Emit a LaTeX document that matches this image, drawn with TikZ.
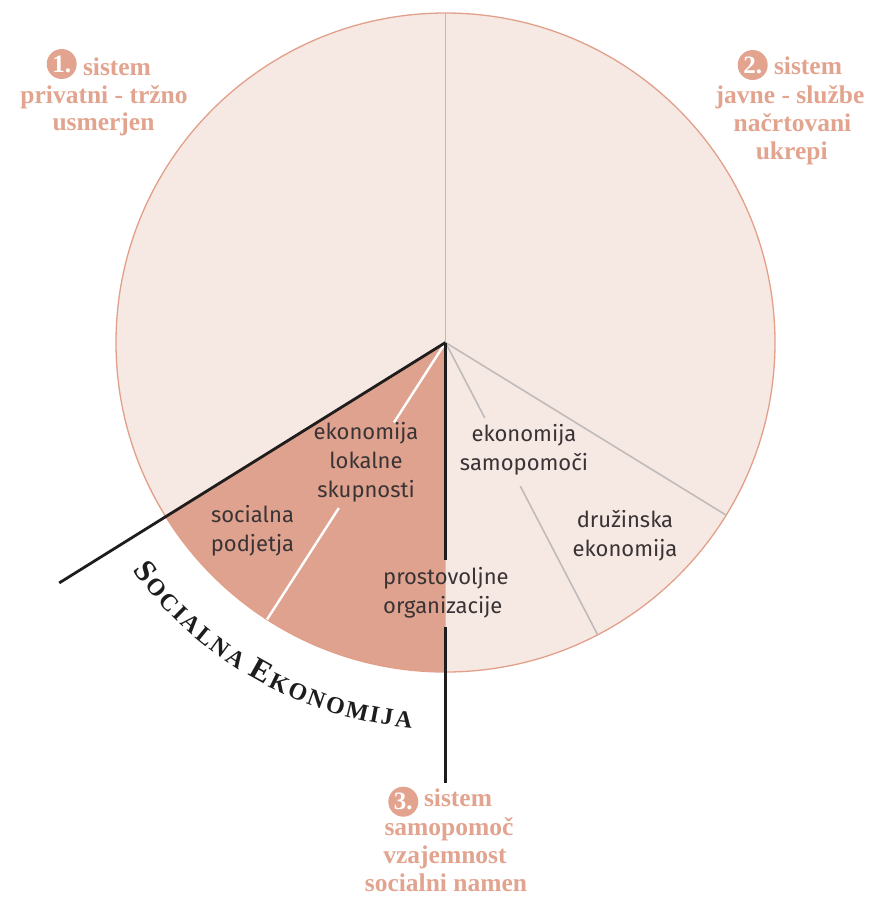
\documentclass[tikz,border=0pt]{standalone}
\usepackage{fontspec}
\setsansfont{Fira Sans}
\newfontfamily\titlefont{Liberation Serif}
\usetikzlibrary{calc}
\definecolor{lightfill}{HTML}{F6E8E3}
\definecolor{darkfill}{HTML}{DFA28E}
\definecolor{rimcol}{HTML}{E2A08A}
\definecolor{salmontext}{HTML}{E2A48F}
\definecolor{grayline}{HTML}{C0BBBA}
\definecolor{blackline}{HTML}{1E1C1C}
\definecolor{innertext}{HTML}{3A3335}
\begin{document}
\begin{tikzpicture}[x=1pt,y=-1pt,
  title/.style={font=\titlefont\bfseries\fontsize{25.5}{28}\selectfont, text=salmontext, anchor=base, inner sep=0pt},
  innerlabel/.style={font=\sffamily\fontsize{22}{29}\selectfont, text=innertext, align=center, inner sep=0pt},
  numdisc/.style={circle, fill=salmontext, text=white, minimum size=30pt, inner sep=0pt, font=\titlefont\bfseries\fontsize{25}{25}\selectfont},
  grayseg/.style={draw=grayline, line width=1.6pt},
  whiteseg/.style={draw=white, line width=2.4pt},
  blackseg/.style={draw=blackline, line width=2.8pt},
  arcletter/.style={anchor=base, inner sep=0pt, text=blackline}
]
\useasboundingbox (0,0) rectangle (875,898);
\coordinate (C) at (445.5,342.5);
\def\R{329.5}
% pie
\fill[lightfill] (C) circle[radius=\R];
\fill[darkfill] (C) -- ($(C)+(148.1:\R)$) arc[start angle=148.1, end angle=90, radius=\R] -- cycle;
\draw[rimcol, line width=1.3pt] (C) circle[radius=\R];
% named points
\coordinate (top) at ($(C)+(-90:\R)$);
\coordinate (rr) at ($(C)+(31.6:\R)$);
\coordinate (s1) at ($(C)+(62.5:85)$);
\coordinate (s2) at ($(C)+(62.5:162)$);
\coordinate (s3) at ($(C)+(62.5:\R)$);
\coordinate (w1) at ($(C)+(122.8:95)$);
\coordinate (w2) at ($(C)+(122.8:197)$);
\coordinate (w3) at ($(C)+(122.8:\R)$);
\coordinate (bl) at ($(C)+(148.1:455)$);
\coordinate (v1) at (445.5,560);
\coordinate (v2) at (445.5,627);
\coordinate (v3) at (445.5,783);
% dividers
\draw[grayseg] (C) -- (top);
\draw[grayseg] (C) -- (rr);
\draw[grayseg] (C) -- (s1);
\draw[grayseg] (s2) -- (s3);
\draw[whiteseg] (C) -- (w1);
\draw[whiteseg] (w2) -- (w3);
\draw[blackseg] (C) -- (bl);
\draw[blackseg] (C) -- (v1);
\draw[blackseg] (v2) -- (v3);
% inner labels
\node[innerlabel] (l1) at (366,462) {ekonomija\\lokalne\\skupnosti};
\node[innerlabel] (l2) at (252.5,531) {socialna\\podjetja};
\node[innerlabel] (l3) at (524,450) {ekonomija\\samopomoči};
\node[innerlabel] (l4) at (625,536) {družinska\\ekonomija};
\node[innerlabel, align=left, anchor=west] (l5) at (383,593) {prostovoljne\\organizacije};
% titles
\node[numdisc] (n1) at (61.7,64) {1.};
\node[title] (t1a) at (117,75) {sistem};
\node[title] (t1b) at (104,103) {privatni - tržno};
\node[title] (t1c) at (103.5,130.5) {usmerjen};
\node[numdisc] (n2) at (752.7,65) {2.};
\node[title] (t2a) at (808,74) {sistem};
\node[title] (t2b) at (790,103) {javne - službe};
\node[title] (t2c) at (792.5,131.5) {načrtovani};
\node[title] (t2d) at (791.7,159.5) {ukrepi};
\node[numdisc] (n3) at (403.3,801.7) {3.};
\node[title] (t3a) at (458,806) {sistem};
\node[title] (t3b) at (449,835) {samopomoč};
\node[title] (t3c) at (445,863) {vzajemnost};
\node[title] (t3d) at (446,891) {socialni namen};
% arc text
\foreach \ang/\ltr/\sz in {217.3/S/31, 220.3/O/24, 223.3/C/24, 225.6/I/24, 227.9/A/24, 230.75/L/24, 233.55/N/24, 236.45/A/24,
  240.7/E/31, 244.0/K/24, 247.1/O/24, 250.1/N/24, 253.15/O/24, 256.55/M/24, 259.25/I/24, 261.15/J/24, 263.7/A/24}
  \node[arcletter, font=\titlefont\bfseries\fontsize{\sz}{\sz}\selectfont, rotate=\ang+90] at ($(C)+(-\ang:387)$) {\ltr};
\end{tikzpicture}
\end{document}
